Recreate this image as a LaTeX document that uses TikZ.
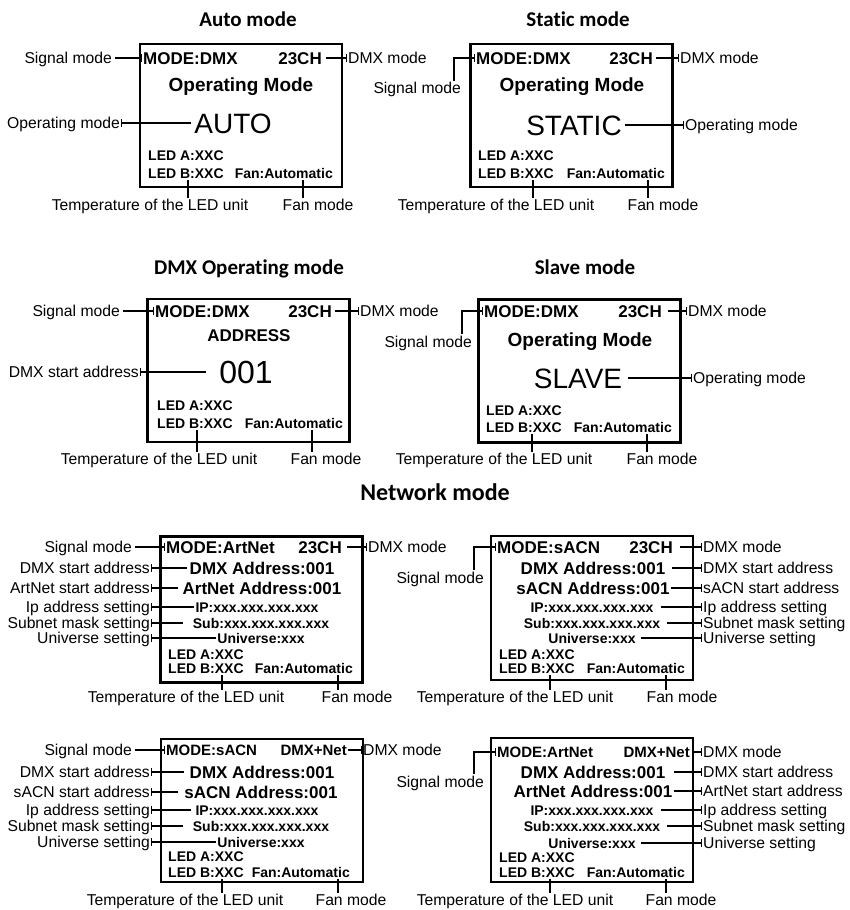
\documentclass[tikz,border=0pt]{standalone}
\usepackage{fontspec}
\setmainfont{Liberation Sans}
\newfontfamily\ttlfont[Ligatures=NoCommon]{Carlito}
\usetikzlibrary{arrows.meta, positioning}

\begin{document}
\begin{tikzpicture}[x=1pt, y=-1pt,
    ttl/.style={font=\ttlfont\bfseries\fontsize{21}{24}\selectfont, inner sep=0pt, text height=13.5pt, text depth=0pt},
    panel/.style={draw, line width=2.4pt, minimum width=202pt, minimum height=143pt, inner sep=0pt},
    scr/.style={font=\bfseries\fontsize{17}{19}\selectfont, inner sep=0pt, text height=12.2pt, text depth=0pt},
    scrs/.style={font=\bfseries\fontsize{15}{17}\selectfont, inner sep=0pt, text height=10.7pt, text depth=0pt},
    head/.style={font=\bfseries\fontsize{19}{21}\selectfont, inner sep=0pt, text height=13.6pt, text depth=0pt},
    big/.style={font=\fontsize{28}{30}\selectfont, inner sep=0pt, text height=20pt, text depth=0pt},
    bignum/.style={font=\fontsize{32}{34}\selectfont, inner sep=0pt, text height=23pt, text depth=0pt},
    small/.style={font=\bfseries\fontsize{14}{16}\selectfont, inner sep=0pt, text height=10pt, text depth=0pt},
    lbl/.style={font=\fontsize{15.7}{18}\selectfont, inner sep=0pt, text height=11.2pt, text depth=0pt},
    lead/.style={line width=1.1pt},
    tick/.style={lead, -{Bar[width=8pt, line width=1.1pt]}},
    stem/.style={lead, shorten <=2pt, shorten >=1.5pt}
]
    \useasboundingbox (0,0) rectangle (849,910);

    % Auto mode
    \node[ttl] (t1) at (248,20) {Auto mode};
    \node[panel] (p1) at (241,115.5) {};
    \node[scr, anchor=west] (p1m) at (143,58) {MODE:DMX};
    \node[scr, anchor=east] (p1c) at (322,58) {23CH};
    \node[head] (p1h) at (241,85) {Operating Mode};
    \node[big] (p1o) at (233,123) {AUTO};
    \node[small, anchor=west] (p1a) at (148,155) {LED A:XXC};
    \node[small, anchor=west] (p1b) at (148,173) {LED B:XXC};
    \node[small, anchor=east] (p1f) at (333,173) {Fan:Automatic};
    \node[lbl, anchor=east] (p1s) at (112,58) {Signal mode};
    \node[lbl, anchor=west] (p1d) at (348,58) {DMX mode};
    \node[lbl, anchor=east] (p1l) at (120,123) {Operating mode};
    \node[lbl] (p1t) at (150,205) {Temperature of the LED unit};
    \node[lbl] (p1n) at (318,205) {Fan mode};
    \draw[tick] ([xshift=3pt]p1s.east) -- ([xshift=-1pt]p1m.west);
    \draw[tick] ([xshift=4pt]p1c.east) -- ([xshift=-1pt]p1d.west);
    \draw[tick] ([xshift=-3pt]p1o.west) -- ([xshift=1pt]p1l.east);
    \draw[stem] ([xshift=40pt]p1b.south west) -- ([xshift=40pt]p1b.south west |- p1t.north);
    \draw[stem] ([xshift=-30pt]p1f.south east) -- ([xshift=-30pt]p1f.south east |- p1n.north);

    % Static mode
    \node[ttl] (t2) at (578,20) {Static mode};
    \node[panel] (p2) at (571.5,115.5) {};
    \node[scr, anchor=west] (p2m) at (476,58) {MODE:DMX};
    \node[scr, anchor=east] (p2c) at (653,58) {23CH};
    \node[head] (p2h) at (572,85) {Operating Mode};
    \node[big] (p2o) at (574,125) {STATIC};
    \node[small, anchor=west] (p2a) at (478,155) {LED A:XXC};
    \node[small, anchor=west] (p2b) at (478,173) {LED B:XXC};
    \node[small, anchor=east] (p2f) at (665,173) {Fan:Automatic};
    \node[lbl, anchor=east] (p2s) at (461,88) {Signal mode};
    \node[lbl, anchor=west] (p2d) at (680,58) {DMX mode};
    \node[lbl, anchor=west] (p2l) at (685,125) {Operating mode};
    \node[lbl] (p2t) at (496,205) {Temperature of the LED unit};
    \node[lbl] (p2n) at (663,205) {Fan mode};
    \draw[tick] ([xshift=-7pt,yshift=1.5pt]p2s.north east) |- ([xshift=-1pt]p2m.west);
    \draw[tick] ([xshift=3pt]p2c.east) -- ([xshift=-1pt]p2d.west);
    \draw[tick] ([xshift=3pt]p2o.east) -- ([xshift=-1pt]p2l.west);
    \draw[stem] ([xshift=55pt]p2b.south west) -- ([xshift=55pt]p2b.south west |- p2t.north);
    \draw[stem] ([xshift=-17pt]p2f.south east) -- ([xshift=-17pt]p2f.south east |- p2n.north);

    % DMX operating mode
    \node[ttl] (t3) at (249,268) {DMX Operating mode};
    \node[panel] (p3) at (248.5,370.5) {};
    \node[scr, anchor=west] (p3m) at (155,311) {MODE:DMX};
    \node[scr, anchor=east] (p3c) at (332,311) {23CH};
    \node[scr] (p3h) at (249,335) {ADDRESS};
    \node[bignum] (p3o) at (246,372) {001};
    \node[small, anchor=west] (p3a) at (157,405) {LED A:XXC};
    \node[small, anchor=west] (p3b) at (157,423) {LED B:XXC};
    \node[small, anchor=east] (p3f) at (343,423) {Fan:Automatic};
    \node[lbl, anchor=east] (p3s) at (120,311) {Signal mode};
    \node[lbl, anchor=west] (p3d) at (360,311) {DMX mode};
    \node[lbl, anchor=east] (p3l) at (139,372) {DMX start address};
    \node[lbl] (p3t) at (159,459) {Temperature of the LED unit};
    \node[lbl] (p3n) at (326,459) {Fan mode};
    \draw[tick] ([xshift=3pt]p3s.east) -- ([xshift=-1pt]p3m.west);
    \draw[tick] ([xshift=3pt]p3c.east) -- ([xshift=-1pt]p3d.west);
    \draw[tick] ([xshift=-13pt]p3o.west) -- ([xshift=1pt]p3l.east);
    \draw[stem] ([xshift=40pt]p3b.south west) -- ([xshift=40pt]p3b.south west |- p3t.north);
    \draw[stem] ([xshift=-31pt]p3f.south east) -- ([xshift=-31pt]p3f.south east |- p3n.north);

    % Slave mode
    \node[ttl] (t4) at (585,268) {Slave mode};
    \node[panel] (p4) at (579.5,371) {};
    \node[scr, anchor=west] (p4m) at (484,311) {MODE:DMX};
    \node[scr, anchor=east] (p4c) at (662,311) {23CH};
    \node[head] (p4h) at (580,340) {Operating Mode};
    \node[big] (p4o) at (578,378) {SLAVE};
    \node[small, anchor=west] (p4a) at (486,410) {LED A:XXC};
    \node[small, anchor=west] (p4b) at (486,427) {LED B:XXC};
    \node[small, anchor=east] (p4f) at (672,427) {Fan:Automatic};
    \node[lbl, anchor=east] (p4s) at (472,342) {Signal mode};
    \node[lbl, anchor=west] (p4d) at (688,311) {DMX mode};
    \node[lbl, anchor=west] (p4l) at (693,378) {Operating mode};
    \node[lbl] (p4t) at (494,459) {Temperature of the LED unit};
    \node[lbl] (p4n) at (662,459) {Fan mode};
    \draw[tick] ([xshift=-10pt,yshift=2pt]p4s.north east) |- ([xshift=-1pt]p4m.west);
    \draw[tick] ([xshift=6pt]p4c.east) -- ([xshift=-1pt]p4d.west);
    \draw[tick] ([xshift=6pt]p4o.east) -- ([xshift=-1pt]p4l.west);
    \draw[stem] ([xshift=46pt]p4b.south west) -- ([xshift=46pt]p4b.south west |- p4t.north);
    \draw[stem] ([xshift=-25pt]p4f.south east) -- ([xshift=-25pt]p4f.south east |- p4n.north);

    % Network mode
    \node[ttl, font=\ttlfont\bfseries\fontsize{24}{28}\selectfont, text height=15.5pt] (t5) at (435,493) {Network mode};

    % ArtNet, 23CH
    \node[panel, minimum height=146pt] (p5) at (261.5,609.5) {};
    \node[scr, anchor=west] (p5m) at (166,547) {MODE:ArtNet};
    \node[scr, anchor=east] (p5c) at (342,547) {23CH};
    \node[scr] (p5x) at (262,568) {DMX Address:001};
    \node[scr] (p5y) at (262,588) {ArtNet Address:001};
    \node[small] (p5i) at (257,607) {IP:xxx.xxx.xxx.xxx};
    \node[small] (p5u) at (261,623) {Sub:xxx.xxx.xxx.xxx};
    \node[small] (p5v) at (261,638) {Universe:xxx};
    \node[small, anchor=west] (p5a) at (168,654) {LED A:XXC};
    \node[small, anchor=west] (p5b) at (168,668) {LED B:XXC};
    \node[small, anchor=east] (p5f) at (353,668) {Fan:Automatic};
    \node[lbl, anchor=east] (p5s) at (132,547) {Signal mode};
    \node[lbl, anchor=east] (p5l1) at (150,568) {DMX start address};
    \node[lbl, anchor=east] (p5l2) at (150,588) {ArtNet start address};
    \node[lbl, anchor=east] (p5l3) at (150,607) {Ip address setting};
    \node[lbl, anchor=east] (p5l4) at (150,623) {Subnet mask setting};
    \node[lbl, anchor=east] (p5l5) at (150,638) {Universe setting};
    \node[lbl, anchor=west] (p5d) at (368,547) {DMX mode};
    \node[lbl] (p5t) at (186,697) {Temperature of the LED unit};
    \node[lbl] (p5n) at (357,697) {Fan mode};
    \draw[tick] ([xshift=3pt]p5s.east) -- ([xshift=-1pt]p5m.west);
    \draw[tick] ([xshift=5pt]p5c.east) -- ([xshift=-1pt]p5d.west);
    \draw[tick] ([xshift=-3pt]p5x.west) -- ([xshift=1pt]p5l1.east);
    \draw[tick] ([xshift=-4pt]p5y.west) -- ([xshift=1pt]p5l2.east);
    \draw[tick] ([xshift=-1pt]p5i.west) -- ([xshift=1pt]p5l3.east);
    \draw[tick] ([xshift=-10pt]p5u.west) -- ([xshift=1pt]p5l4.east);
    \draw[tick] ([xshift=-1pt]p5v.west) -- ([xshift=1pt]p5l5.east);
    \draw[stem] ([xshift=54pt]p5b.south west) -- ([xshift=54pt]p5b.south west |- p5t.north);
    \draw[stem] ([xshift=-15pt]p5f.south east) -- ([xshift=-15pt]p5f.south east |- p5n.north);

    % sACN, 23CH
    \node[panel, minimum height=144pt] (p6) at (592,608) {};
    \node[scr, anchor=west] (p6m) at (497,547) {MODE:sACN};
    \node[scr, anchor=east] (p6c) at (673,547) {23CH};
    \node[scr] (p6x) at (593,568) {DMX Address:001};
    \node[scr] (p6y) at (593,588) {sACN Address:001};
    \node[small] (p6i) at (592,607) {IP:xxx.xxx.xxx.xxx};
    \node[small] (p6u) at (592,623) {Sub:xxx.xxx.xxx.xxx};
    \node[small] (p6v) at (592,638) {Universe:xxx};
    \node[small, anchor=west] (p6a) at (499,654) {LED A:XXC};
    \node[small, anchor=west] (p6b) at (499,668) {LED B:XXC};
    \node[small, anchor=east] (p6f) at (685,668) {Fan:Automatic};
    \node[lbl, anchor=east] (p6s) at (484,578) {Signal mode};
    \node[lbl, anchor=west] (p6r0) at (703,547) {DMX mode};
    \node[lbl, anchor=west] (p6r1) at (703,568) {DMX start address};
    \node[lbl, anchor=west] (p6r2) at (703,588) {sACN start address};
    \node[lbl, anchor=west] (p6r3) at (703,607) {Ip address setting};
    \node[lbl, anchor=west] (p6r4) at (703,623) {Subnet mask setting};
    \node[lbl, anchor=west] (p6r5) at (703,638) {Universe setting};
    \node[lbl] (p6t) at (515,697) {Temperature of the LED unit};
    \node[lbl] (p6n) at (682,697) {Fan mode};
    \draw[tick] ([xshift=-10pt,yshift=2pt]p6s.north east) |- ([xshift=-1pt]p6m.west);
    \draw[tick] ([xshift=7pt]p6c.east) -- ([xshift=-1pt]p6r0.west);
    \draw[tick] ([xshift=7pt]p6x.east) -- ([xshift=-1pt]p6r1.west);
    \draw[tick] ([xshift=1pt]p6y.east) -- ([xshift=-1pt]p6r2.west);
    \draw[tick] ([xshift=7pt]p6i.east) -- ([xshift=-1pt]p6r3.west);
    \draw[tick] ([xshift=7pt]p6u.east) -- ([xshift=-1pt]p6r4.west);
    \draw[tick] ([xshift=5pt]p6v.east) -- ([xshift=-1pt]p6r5.west);
    \draw[stem] ([xshift=51pt]p6b.south west) -- ([xshift=51pt]p6b.south west |- p6t.north);
    \draw[stem] ([xshift=-19pt]p6f.south east) -- ([xshift=-19pt]p6f.south east |- p6n.north);

    % sACN, DMX+Net
    \node[panel] (p7) at (262,810.5) {};
    \node[scrs, anchor=west] (p7m) at (166,750) {MODE:sACN};
    \node[scrs, anchor=east] (p7c) at (347,750) {DMX+Net};
    \node[scr] (p7x) at (262,772) {DMX Address:001};
    \node[scr] (p7y) at (261,792) {sACN Address:001};
    \node[small] (p7i) at (257,810) {IP:xxx.xxx.xxx.xxx};
    \node[small] (p7u) at (261,826) {Sub:xxx.xxx.xxx.xxx};
    \node[small] (p7v) at (261,842) {Universe:xxx};
    \node[small, anchor=west] (p7a) at (168,856) {LED A:XXC};
    \node[small, anchor=west] (p7b) at (168,872) {LED B:XXC};
    \node[small, anchor=east] (p7f) at (350,872) {Fan:Automatic};
    \node[lbl, anchor=east] (p7s) at (132,750) {Signal mode};
    \node[lbl, anchor=east] (p7l1) at (150,772) {DMX start address};
    \node[lbl, anchor=east] (p7l2) at (150,792) {sACN start address};
    \node[lbl, anchor=east] (p7l3) at (150,810) {Ip address setting};
    \node[lbl, anchor=east] (p7l4) at (150,826) {Subnet mask setting};
    \node[lbl, anchor=east] (p7l5) at (150,842) {Universe setting};
    \node[lbl, anchor=west] (p7d) at (363,750) {DMX mode};
    \node[lbl] (p7t) at (185,900) {Temperature of the LED unit};
    \node[lbl] (p7n) at (351,900) {Fan mode};
    \draw[tick] ([xshift=3pt]p7s.east) -- ([xshift=-1pt]p7m.west);
    \draw[tick] ([xshift=1pt]p7c.east) -- ([xshift=-1pt]p7d.west);
    \draw[tick] ([xshift=-6pt]p7x.west) -- ([xshift=1pt]p7l1.east);
    \draw[tick] ([xshift=-6pt]p7y.west) -- ([xshift=1pt]p7l2.east);
    \draw[tick] ([xshift=-4pt]p7i.west) -- ([xshift=1pt]p7l3.east);
    \draw[tick] ([xshift=-10pt]p7u.west) -- ([xshift=1pt]p7l4.east);
    \draw[tick] ([xshift=-1pt]p7v.west) -- ([xshift=1pt]p7l5.east);
    \draw[stem] ([xshift=54pt]p7b.south west) -- ([xshift=54pt]p7b.south west |- p7t.north);
    \draw[stem] ([xshift=-12pt]p7f.south east) -- ([xshift=-12pt]p7f.south east |- p7n.north);

    % ArtNet, DMX+Net
    \node[panel, minimum height=144pt] (p8) at (592,810) {};
    \node[scrs, anchor=west] (p8m) at (497,752) {MODE:ArtNet};
    \node[scrs, anchor=east] (p8c) at (690,752) {DMX+Net};
    \node[scr] (p8x) at (593,772) {DMX Address:001};
    \node[scr] (p8y) at (593,791) {ArtNet Address:001};
    \node[small] (p8i) at (592,810) {IP:xxx.xxx.xxx.xxx};
    \node[small] (p8u) at (592,826) {Sub:xxx.xxx.xxx.xxx};
    \node[small] (p8v) at (592,843) {Universe:xxx};
    \node[small, anchor=west] (p8a) at (499,857) {LED A:XXC};
    \node[small, anchor=west] (p8b) at (499,872) {LED B:XXC};
    \node[small, anchor=east] (p8f) at (685,872) {Fan:Automatic};
    \node[lbl, anchor=east] (p8s) at (484,782) {Signal mode};
    \node[lbl, anchor=west] (p8r0) at (703,752) {DMX mode};
    \node[lbl, anchor=west] (p8r1) at (703,772) {DMX start address};
    \node[lbl, anchor=west] (p8r2) at (703,791) {ArtNet start address};
    \node[lbl, anchor=west] (p8r3) at (703,810) {Ip address setting};
    \node[lbl, anchor=west] (p8r4) at (703,826) {Subnet mask setting};
    \node[lbl, anchor=west] (p8r5) at (703,843) {Universe setting};
    \node[lbl] (p8t) at (515,900) {Temperature of the LED unit};
    \node[lbl] (p8n) at (681,900) {Fan mode};
    \draw[tick] ([xshift=-10pt,yshift=2pt]p8s.north east) |- ([xshift=-1pt]p8m.west);
    \draw[tick] ([xshift=3pt]p8c.east) -- ([xshift=-1pt]p8r0.west);
    \draw[tick] ([xshift=9pt]p8x.east) -- ([xshift=-1pt]p8r1.west);
    \draw[tick] ([xshift=1pt]p8y.east) -- ([xshift=-1pt]p8r2.west);
    \draw[tick] ([xshift=7pt]p8i.east) -- ([xshift=-1pt]p8r3.west);
    \draw[tick] ([xshift=7pt]p8u.east) -- ([xshift=-1pt]p8r4.west);
    \draw[tick] ([xshift=5pt]p8v.east) -- ([xshift=-1pt]p8r5.west);
    \draw[stem] ([xshift=51pt]p8b.south west) -- ([xshift=51pt]p8b.south west |- p8t.north);
    \draw[stem] ([xshift=-19pt]p8f.south east) -- ([xshift=-19pt]p8f.south east |- p8n.north);
\end{tikzpicture}
\end{document}
